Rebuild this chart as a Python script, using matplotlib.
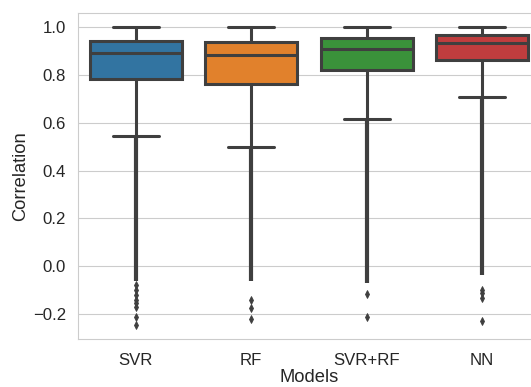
import matplotlib
matplotlib.use("Agg")
import matplotlib.pyplot as plt
import seaborn as sns

models = ["SVR", "RF", "SVR+RF", "NN"]

# box statistics
whisker_high = [1.0, 1.0, 1.0, 1.0]
q3 = [0.943, 0.939, 0.957, 0.968]
medians = [0.893, 0.882, 0.911, 0.935]
q1 = [0.783, 0.761, 0.821, 0.862]
whisker_low = [0.546, 0.497, 0.618, 0.708]

# outliers: a dense run from the lower whisker down to this value ...
dense_run_end = [-0.06, -0.063, -0.07, -0.035]
# ... plus the separate points below it
sparse_fliers = [
    [-0.08, -0.10, -0.12, -0.14, -0.155, -0.17, -0.213, -0.245],
    [-0.14, -0.175, -0.22],
    [-0.116, -0.214],
    [-0.098, -0.112, -0.133, -0.228],
]

sns.set_style("whitegrid")
plt.rcParams["font.family"] = ["Liberation Sans", "DejaVu Sans"]

palette = [sns.desaturate(c, 0.75) for c in ["#1f77b4", "#ff7f0e", "#2ca02c", "#d62728"]]
gray = "#3f3f3f"
lw = 2.2

fig = plt.figure(figsize=(5.31, 3.87), dpi=100)
ax = fig.add_axes([0.1469, 0.1233, 0.870, 0.8439])

stats = []
for i in range(len(models)):
    stats.append({
        "med": medians[i], "q1": q1[i], "q3": q3[i],
        "whislo": whisker_low[i], "whishi": whisker_high[i],
        "fliers": sparse_fliers[i], "label": models[i],
    })

bp = ax.bxp(stats, positions=range(len(models)), widths=0.8, capwidths=0.4,
            patch_artist=True,
            boxprops=dict(edgecolor=gray, linewidth=lw),
            medianprops=dict(color=gray, linewidth=lw),
            whiskerprops=dict(color=gray, linewidth=lw),
            capprops=dict(color=gray, linewidth=lw),
            flierprops=dict(marker="d", markersize=3.6, markeredgewidth=0.6,
                            markerfacecolor=gray, markeredgecolor=gray,
                            linestyle="none"))
for patch, c in zip(bp["boxes"], palette):
    patch.set_facecolor(c)

# dense outlier stacks merge into a solid column
ax.vlines(range(len(models)), dense_run_end, whisker_low, color=gray,
          linewidth=3.0, zorder=2)

ax.set_xlim(-0.5, 3.5)
ax.set_ylim(-0.306, 1.061)
ax.set_yticks([-0.2, 0.0, 0.2, 0.4, 0.6, 0.8, 1.0])
ax.set_xticks(range(len(models)))
ax.set_xticklabels(models)
ax.xaxis.grid(False)
# hidden ticks still take room, as in the seaborn notebook context
ax.tick_params(labelsize=12.1, colors=".15", length=6.6, bottom=False, left=False)
ax.tick_params(axis="y", length=5.0)
ax.set_xlabel("Models", fontsize=13.2, color=".15", labelpad=0.5)
ax.set_ylabel("Correlation", fontsize=13.2, color=".15", labelpad=2.5)

fig.savefig("out.png", dpi=100)
